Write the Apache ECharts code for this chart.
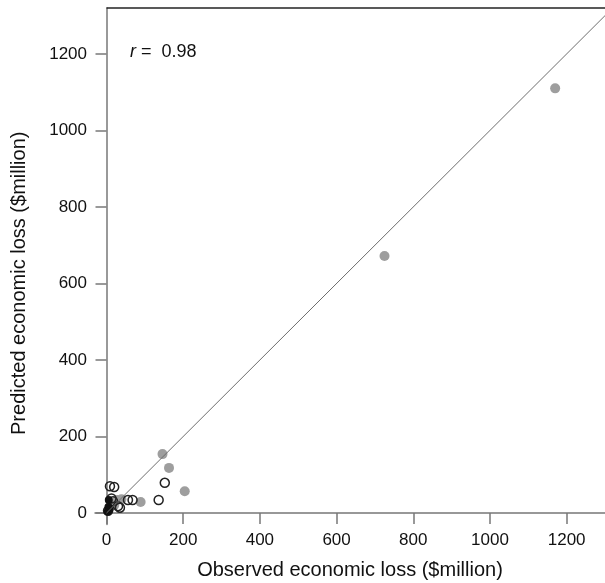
<!DOCTYPE html>
<html>
<head>
    <meta charset="utf-8">
    <title>observed vs predicted loss</title>
</head>
<body style="margin:0;background-color:#fff;">
    <div id="main" style="width:605px;height:583px;"></div>

    <script src="https://cdn.jsdelivr.net/npm/echarts@6/dist/echarts.min.js"></script>
    <script type="text/javascript">
        // 刻度
        var tickValues = [0, 200, 400, 600, 800, 1000, 1200];

        // 灰色实心点 [观测, 预测]
        var grayPoints = [
            [1170, 1110], [725, 672], [146, 154], [163, 118], [204, 57],
            [89, 29], [28, 34], [39, 36], [20, 20]
        ];
        // 空心圆
        var openPoints = [
            [9, 70], [20, 68], [13, 38], [17, 31], [30, 18], [35, 14],
            [56, 34], [68, 34], [152, 79], [136, 34], [4, 6]
        ];
        // 黑色实心点
        var blackPoints = [[6, 34], [5, 16], [3, 4], [8, 10]];

        var rText = '0.98';

        var myChart = echarts.init(document.getElementById('main'));

        var font = 'Liberation Sans, Arial, sans-serif';
        var plain = function (v) { return String(v); };
        var axisGray = { color: '#777', width: 1.5, type: 'solid' };

        var option = {
            backgroundColor: '#fff',
            animation: false,
            title: {
                text: '{i|r} =  ' + rText,
                left: 130,
                top: 43,
                padding: 0,
                textStyle: {
                    fontFamily: font,
                    fontSize: 18,
                    fontWeight: 'normal',
                    color: '#111',
                    rich: {
                        i: { fontStyle: 'italic', fontFamily: font, fontSize: 18, color: '#111' }
                    }
                }
            },
            grid: { left: 95, right: 0, top: 8, bottom: 58.5, containLabel: false, outerBoundsMode: 'none' },
            xAxis: {
                type: 'value',
                min: -30,
                max: 1300,
                name: 'Observed economic loss ($million)',
                nameLocation: 'middle',
                nameGap: 36,
                nameTextStyle: { fontFamily: font, fontSize: 20, color: '#111' },
                axisLine: { onZero: true, lineStyle: axisGray },
                axisTick: { length: 11, customValues: tickValues, lineStyle: axisGray },
                axisLabel: { customValues: tickValues, formatter: plain, margin: 7, fontFamily: font, fontSize: 17, color: '#111' },
                splitLine: { show: false }
            },
            yAxis: {
                type: 'value',
                min: -30,
                max: 1320,
                name: 'Predicted economic loss ($million)',
                nameLocation: 'middle',
                nameGap: 66,
                nameTextStyle: { fontFamily: font, fontSize: 20, color: '#111', padding: [0, 34, 0, 0] },
                axisLine: { onZero: true, lineStyle: axisGray },
                axisTick: { length: 11, customValues: tickValues, lineStyle: axisGray },
                axisLabel: { customValues: tickValues, formatter: plain, margin: 8, fontFamily: font, fontSize: 17, color: '#111' },
                splitLine: { show: false }
            },
            series: [
                {
                    name: 'gray',
                    type: 'scatter',
                    symbolSize: 10,
                    itemStyle: { color: '#9e9e9e', opacity: 1 },
                    data: grayPoints,
                    markLine: {
                        silent: true,
                        symbol: 'none',
                        label: { show: false },
                        data: [
                            // y = x 参考线
                            [{ coord: [0, 0], lineStyle: { color: '#6e6e6e', width: 1, type: 'solid' } }, { coord: [1300, 1300] }],
                            // 上边框
                            [{ coord: [0, 1320], lineStyle: { color: '#222', width: 1.5, type: 'solid' } }, { coord: [1300, 1320] }]
                        ]
                    }
                },
                {
                    name: 'open',
                    type: 'scatter',
                    symbolSize: 9,
                    itemStyle: { color: 'rgba(0,0,0,0)', borderColor: '#222', borderWidth: 1.5, opacity: 1 },
                    data: openPoints
                },
                {
                    name: 'black',
                    type: 'scatter',
                    symbolSize: 8,
                    itemStyle: { color: '#111', opacity: 1 },
                    data: blackPoints
                }
            ]
        };

        myChart.setOption(option);
    </script>
</body>
</html>
